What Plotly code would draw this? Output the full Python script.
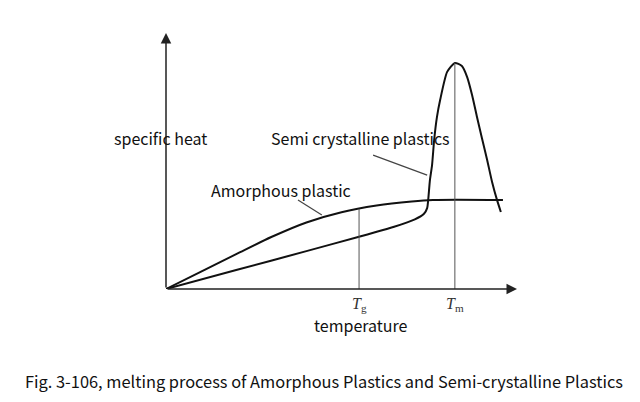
import numpy as np
import plotly.graph_objects as go

# Amorphous plastic curve (temperature, specific heat) in arbitrary units
amor_t = [0, 10, 20, 30, 40, 50, 60, 70, 76, 96]
amor_c = [0, 6.8, 13.6, 20.3, 26.0, 30.0, 32.6, 34.2, 34.8, 34.8]

# Semi-crystalline plastic curve
semi_t = [0, 20, 40, 55, 65, 70.9, 73.5, 74.4, 74.7, 75.2, 75.8, 76.4,
          77.2, 78.1, 80.1, 82.3, 84.3, 85.8, 87.2, 88.6, 90.0, 91.5, 92.9, 94.3, 95.4]
semi_c = [0, 7.4, 14.8, 20.4, 24.3, 27.2, 29.4, 31.6, 34.8, 42.6, 48.4, 58.2,
          67.2, 73.8, 84.8, 88.3, 87.1, 82.8, 75.8, 67.2, 59.0, 50.4, 41.8, 34.8, 30.1]

Tg = 55.0
Tm = 82.3

x_label = "temperature"
y_label = "specific heat"
semi_label = "Semi crystalline plastics"
amor_label = "Amorphous plastic"
caption = "Fig. 3-106, melting process of Amorphous Plastics and Semi-crystalline Plastics"

FONT = "Noto Sans CJK SC, Roboto, sans-serif"

fig = go.Figure()
fig.add_trace(go.Scatter(x=amor_t, y=amor_c, mode="lines",
                         line=dict(color="#111", width=2, shape="spline", smoothing=0.8),
                         hoverinfo="skip", showlegend=False))
fig.add_trace(go.Scatter(x=semi_t, y=semi_c, mode="lines",
                         line=dict(color="#111", width=2, shape="spline", smoothing=0.6),
                         hoverinfo="skip", showlegend=False))

tg_top = float(np.interp(Tg, amor_t, amor_c))
tm_top = max(semi_c)
shapes = [
    dict(type="line", x0=Tg, x1=Tg, y0=0, y1=tg_top, xref="x", yref="y",
         line=dict(color="#555", width=1)),
    dict(type="line", x0=Tm, x1=Tm, y0=0, y1=tm_top, xref="x", yref="y",
         line=dict(color="#555", width=1)),
    # leader lines
    dict(type="line", x0=59.0, y0=52.3, x1=74.4, y1=44.5, xref="x", yref="y",
         line=dict(color="#444", width=1.2)),
    dict(type="line", x0=37.6, y0=34.8, x1=44.4, y1=28.9, xref="x", yref="y",
         line=dict(color="#444", width=1.2)),
]


def label(x, y, text, size, xref="paper", family=FONT, color="#111"):
    return dict(x=x, y=y, xref=xref, yref="paper", text=text, showarrow=False,
                xanchor="center", yanchor="middle",
                font=dict(family=family, size=size, color=color))


annotations = [
    # axes with arrows
    dict(x=100, y=0, ax=0, ay=0, xref="x", yref="y", axref="x", ayref="y",
         showarrow=True, arrowhead=2, arrowsize=1.4, arrowwidth=1.5, arrowcolor="#222", text=""),
    dict(x=0, y=100, ax=0, ay=0, xref="x", yref="y", axref="x", ayref="y",
         showarrow=True, arrowhead=2, arrowsize=1.4, arrowwidth=1.5, arrowcolor="#222", text=""),
    label(-0.017, 0.590, y_label, 16),
    label(0.553, 0.590, semi_label, 16),
    label(0.328, 0.387, amor_label, 16),
    label(0.556, -0.141, x_label, 16),
    label(Tg, -0.06, "<i>T</i><sub>g</sub>", 16, xref="x", family="Liberation Serif", color="#333"),
    label(Tm, -0.06, "<i>T</i><sub>m</sub>", 16, xref="x", family="Liberation Serif", color="#333"),
    label(0.450, -0.359, caption, 16.4),
]

fig.update_layout(
    width=640, height=402,
    margin=dict(l=158, r=131, t=25, b=121, autoexpand=False),
    paper_bgcolor="white", plot_bgcolor="white",
    xaxis=dict(range=[0, 100], visible=False),
    yaxis=dict(range=[0, 100], visible=False),
    shapes=shapes, annotations=annotations,
)
fig.write_html("out.html")
